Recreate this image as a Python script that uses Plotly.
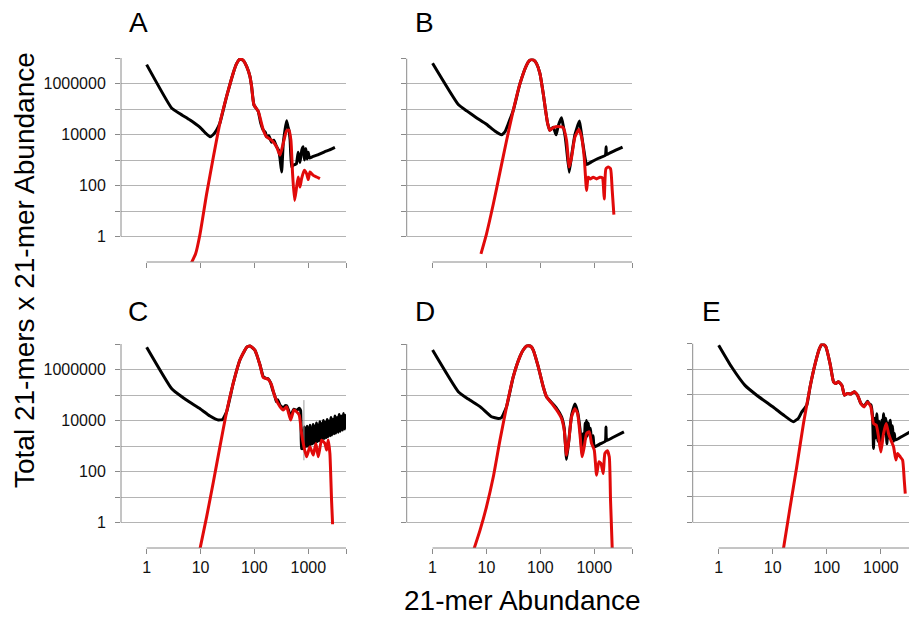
import plotly.graph_objects as go

W, H = 909, 617

# ---------------- data ----------------
# Panel A
a_black_x = [1, 2.9, 4.15, 6.4, 9.8, 12.6, 15, 17.3, 19.9, 22.9, 30.5, 40.5, 46.7, 54, 62, 71.7, 82.6, 88.7, 98, 118,
             130, 146, 160, 168, 185, 208, 230, 258, 280, 298, 320, 343, 370, 396, 420, 437, 460, 490, 526,
             560, 600, 650, 700, 760, 807, 850, 900, 950, 1000, 1050, 1200, 1500, 2000, 2500, 3120]
a_black_y = [5.5e6, 1.1e5, 6.5e4, 3.7e4, 1.9e4, 1.1e4, 8.1e3, 1.0e4, 1.5e4, 2.8e4, 3.1e5, 2.6e6, 6.0e6, 9.1e6, 8.1e6, 4.7e6, 1.9e6, 7.6e5, 1.45e5, 8e4,
             3e4, 1.5e4, 1.2e4, 8.1e3, 9e3, 5e3, 6e3, 3.3e3, 2.5e3, 1.2e3, 340, 4.5e3, 1.5e4, 3.5e4, 2.0e4, 1.5e4, 6e3, 540, 620,
             660, 700, 2.0e3, 800, 2.5e3, 3.3e3, 1.0e3, 2.8e3, 1.1e3, 2.0e3, 1.2e3, 1.35e3, 1.6e3, 2.1e3, 2.5e3, 3.1e3]
a_red_x = [6.8, 8.1, 9.8, 13, 17.3, 22.9, 30.5, 40.5, 46.7, 54, 62, 71.7, 82.6, 88.7, 98, 118, 146, 168, 208, 258, 298,
           343, 396, 437, 476, 511, 557, 607, 651, 700, 751, 842, 930, 1000, 1072, 1236, 1426, 1644]
a_red_y = [0.095, 0.21, 1.26, 48, 1300, 2.8e4, 3.1e5, 2.6e6, 6.0e6, 9.1e6, 8.1e6, 4.7e6, 1.9e6, 7.6e5, 1.45e5, 8e4, 1.5e4, 8.1e3, 6.0e3, 3.3e3, 1.55e3,
           4.5e3, 1.4e4, 1.5e4, 6e3, 295, 26, 87, 216, 87, 185, 400, 295, 170, 340, 250, 216, 185]

# Panel B
b_black_x = [1, 3.0, 4.3, 6.5, 10, 14.3, 19, 22, 25, 31.4, 41.7, 55.5, 62, 68.7, 76, 85, 98, 113, 125, 136, 150, 173,
             196, 214, 247, 266, 290, 306, 343, 379, 437, 531, 581, 651, 720, 900, 1200, 1600, 1660, 1680, 1720, 2200, 3350]
b_black_y = [6.5e6, 1.55e5, 8.7e4, 4.7e4, 2.6e4, 1.4e4, 1.0e4, 1.3e4, 2.5e4, 9.1e4, 1.0e6, 5.5e6, 8.1e6, 9.1e6, 8.6e6, 6.3e6, 2.6e6, 4.2e5, 9.1e4, 2.9e4, 1.5e4, 2.0e4,
             1.0e4, 2.2e4, 4.7e4, 2.2e4, 8e3, 3e3, 340, 1.5e3, 1.0e4, 3.5e4, 1.0e4, 2.0e3, 680, 880, 1.2e3, 1.55e3, 3.4e3, 1.65e3, 1.7e3, 2.2e3, 3.3e3]
b_red_x = [7.9, 10, 13.4, 17.8, 23.6, 31.4, 41.7, 55.5, 62, 68.7, 76, 85, 98, 113, 125, 136, 150, 173, 214, 266, 306,
           343, 379, 437, 519, 581, 651, 720, 773, 853, 957, 1103, 1273, 1420, 1530, 1644, 1816, 2004, 2153, 2311]
b_red_y = [0.21, 1.26, 19, 340, 6e3, 9.1e4, 1.0e6, 5.5e6, 8.1e6, 9.1e6, 8.6e6, 6.3e6, 2.6e6, 4.2e5, 9.1e4, 2.9e4, 1.5e4, 1.9e4, 2.1e4, 1.9e4, 6e3,
           540, 1.3e3, 8.1e3, 1.6e4, 8.1e3, 1.3e3, 65, 216, 185, 216, 185, 216, 200, 30, 460, 540, 460, 65, 7.3]

# Panel C
c_black_x = [1, 2.9, 4.5, 6.8, 9.8, 15, 21.4, 25.7, 30.5, 40.5, 54, 71.7, 82.6, 102, 127, 146, 165, 181, 200, 220, 240,
             255, 270, 298, 320, 343, 370, 396, 430, 470, 500, 541, 607, 680, 720, 751,
             780, 800, 820, 845, 870, 895, 920, 950, 980, 1010, 1040, 1075, 1110, 1150, 1190, 1230, 1275, 1320,
             1370, 1420, 1470, 1520, 1580, 1640, 1700, 1770, 1840, 1910, 1990, 2070, 2150, 2240, 2330, 2430,
             2530, 2640, 2750, 2870, 3000, 3130, 3270, 3420, 3580, 3750, 3930, 4120, 4320, 4530, 4750, 4980, 5100]
c_black_y = [7.5e6, 1.8e5, 8.5e4, 4.7e4, 2.9e4, 1.5e4, 1.05e4, 1.1e4, 2.2e4, 2.9e5, 2.4e6, 7.4e6, 8.3e6, 5.8e6, 1.5e6, 5.2e5, 4.5e5, 4.3e5, 3.0e5, 1.5e5, 9.0e4,
             5.5e4, 6.5e4, 4.0e4, 3.5e4, 2.8e4, 3.8e4, 3.8e4, 2.5e4, 1.3e4, 2.0e4, 2.8e4, 2.5e4, 3.0e4, 2.5e4, 800,
             800, 4.0e3, 900, 5.5e3, 920, 4.0e3, 980, 6.0e3, 1.0e3, 4.5e3, 1.08e3, 6.5e3, 1.15e3, 5.0e3, 1.22e3, 7.0e3, 1.3e3, 6.0e3,
             1.4e3, 8.0e3, 1.5e3, 6.5e3, 1.62e3, 9.0e3, 1.72e3, 7.5e3, 1.85e3, 1.0e4, 2.0e3, 8.5e3, 2.15e3, 1.1e4, 2.3e3, 9.5e3,
             2.5e3, 1.3e4, 2.7e3, 1.1e4, 3.0e3, 1.5e4, 3.2e3, 1.3e4, 3.5e3, 1.7e4, 3.8e3, 1.5e4, 4.2e3, 1.9e4, 4.6e3, 1.6e4, 5.0e3]
c_red_x = [9.8, 13, 17.3, 22.9, 30.5, 40.5, 54, 71.7, 82.6, 102, 127, 146, 181, 208, 240, 298, 343, 396, 470, 541,
           607, 680, 751, 830, 930, 1072, 1236, 1386, 1530, 1766, 2036, 2187, 2346, 2517, 2704, 2826]
c_red_y = [0.095, 1.7, 39, 930, 2.2e4, 2.9e5, 2.4e6, 7.4e6, 8.3e6, 5.8e6, 1.5e6, 4.9e5, 4.1e5, 2.5e5, 8.5e4, 3.5e4, 2.6e4, 3.5e4, 1.05e4, 2.6e4,
           2.2e4, 1.6e4, 3.1e3, 930, 380, 930, 440, 1260, 380, 1700, 1260, 690, 1700, 510, 7.4, 0.85]
c_gray_x = [830, 830]
c_gray_y = [6.3e4, 275]

# Panel D
d_black_x = [1, 3.0, 4.6, 7.6, 12.4, 16.5, 19, 23.6, 31.4, 41.7, 48, 55.5, 61, 67, 73.8, 91.3, 113, 130, 162, 200, 247,
             277, 306, 338, 379, 437, 490, 541, 598, 620, 651, 680, 700, 720, 745, 775, 807, 850, 891, 950, 1000,
             1300, 1600, 1650, 1700, 2200, 3550]
d_black_y = [5.8e6, 1.35e5, 6.9e4, 3.5e4, 1.4e4, 1.2e4, 1.3e4, 3.5e4, 5.2e5, 3.2e6, 5.8e6, 8.3e6, 8.6e6, 8.0e6, 5.8e6, 1.3e6, 2.1e5, 8.5e4, 5e4, 3e4, 1.4e4,
             5e3, 300, 1.7e3, 1.6e4, 4.4e4, 2.2e4, 5e3, 500, 3.0e3, 1.5e3, 8e3, 2e3, 1.0e4, 2.5e3, 8e3, 3e3, 5e3, 1.5e3, 2.5e3, 930,
             1230, 1540, 5.6e3, 1640, 2160, 3.6e3]
d_red_x = [5.9, 7.6, 10, 13.4, 17.8, 23.6, 31.4, 41.7, 48, 55.5, 61, 67, 73.8, 91.3, 113, 130, 162, 200, 247, 277, 306,
           338, 379, 437, 490, 541, 598, 651, 720, 807, 891, 1000, 1103, 1219, 1327, 1466, 1575, 1742, 1897, 2004, 2153]
d_red_y = [0.095, 0.5, 4.1, 62, 1.7e3, 3.5e4, 5.2e5, 3.2e6, 5.8e6, 8.3e6, 8.6e6, 8.0e6, 5.8e6, 1.3e6, 2.1e5, 8.5e4, 4.7e4, 2.6e4, 1.2e4, 4.2e3, 430,
           1.7e3, 1.4e4, 2.9e4, 1.9e4, 3.1e3, 380, 930, 3.1e3, 3.6e3, 1.26e3, 690, 72, 240, 210, 83, 510, 650, 380, 7.4, 0.095]

# Panel E
e_black_x = [1, 1.74, 3.07, 5.06, 10.3, 15.8, 24.1, 29.9, 34, 42.6, 49, 60.8, 73, 83, 96, 115, 133, 147, 164, 190, 212,
             241, 278, 321, 370, 426, 491, 566, 600, 653, 700, 731, 760, 790, 843, 880, 920, 972, 1040, 1080,
             1120, 1180, 1230, 1292, 1350, 1420, 1490, 1560, 1640, 1717, 1780, 1841, 2500, 3490]
e_black_y = [8.6e6, 1.2e6, 2.3e5, 9.5e4, 3.2e4, 1.6e4, 8.7e3, 1.2e4, 2.0e4, 3.9e4, 2.0e5, 1.6e6, 6.3e6, 1.0e7, 7.4e6, 1.6e6, 3.2e5, 2.7e5, 3.2e5, 2.3e5, 9.5e4,
             1.1e5, 1.05e5, 1.3e5, 9.5e4, 4.5e4, 3.5e4, 5.5e4, 4.5e4, 4.0e4, 1.5e4, 780, 1.2e4, 2.0e3, 1.8e4, 1.5e3, 9e3, 910, 1.0e4, 2e3,
             1.8e4, 3e3, 1.2e4, 1.2e3, 8e3, 2e3, 1.0e4, 1.8e3, 6e3, 1.5e3, 3e3, 1.65e3, 2.36e3, 3.5e3]
e_red_x = [15.8, 21, 27.8, 37, 49, 60.8, 73, 83, 96, 115, 133, 147, 164, 190, 212, 241, 278, 321, 370, 426, 491,
           566, 653, 731, 820, 906, 1000, 1120, 1256, 1387, 1531, 1717, 1895, 2036, 2280, 2520, 2705, 2825]
e_red_y = [0.095, 4.1, 150, 7.4e3, 2.0e5, 1.6e6, 6.3e6, 1.0e7, 7.4e6, 1.6e6, 3.2e5, 2.7e5, 3.2e5, 2.3e5, 9.5e4, 1.1e5, 1.05e5, 1.3e5, 9.5e4, 4.5e4, 3.3e4,
           5.2e4, 3.3e4, 7.4e3, 6.4e3, 2.2e3, 570, 3.0e3, 7.4e3, 3.0e3, 1.65e3, 910, 275, 500, 370, 275, 45, 13.5]

panel_letters = ["A", "B", "C", "D", "E"]
y_tick_values = [1, 10, 100, 1000, 10000, 100000, 1000000, 10000000]
y_tick_labels = ["1", "", "100", "", "10000", "", "1000000", ""]
x_tick_values = [1, 10, 100, 1000, 5012]
x_tick_labels = ["1", "10", "100", "1000", ""]
x_title = "21-mer Abundance"
y_title = "Total 21-mers x 21-mer Abundance"

# ---------------- layout geometry (pixels) ----------------
# (left, right, top, bottom, xrange, show y labels, show x labels)
geo = [
    (121, 346, 58, 262, [-0.476, 3.70], True, False),
    (406.7, 632, 58.5, 262, [-0.48, 3.70], False, False),
    (121, 346, 344, 548, [-0.476, 3.70], True, True),
    (406.7, 632, 344, 548, [-0.48, 3.70], False, True),
    (692.7, 909, 343.5, 548, [-0.48, 3.52], False, True),
]
letter_pos = [(138, 23), (424, 23), (138, 312), (425, 312), (711, 312)]

data = [
    (a_black_x, a_black_y, a_red_x, a_red_y),
    (b_black_x, b_black_y, b_red_x, b_red_y),
    (c_black_x, c_black_y, c_red_x, c_red_y),
    (d_black_x, d_black_y, d_red_x, d_red_y),
    (e_black_x, e_black_y, e_red_x, e_red_y),
]

FONT = "Liberation Sans, Arial, Helvetica, sans-serif"
GRID = "#b4b4b4"
AXC = "#8a8a8a"
RED = "#e10a0a"

fig = go.Figure()
layout = dict(
    width=W, height=H, margin=dict(l=0, r=0, t=0, b=0),
    paper_bgcolor="white", plot_bgcolor="white", showlegend=False,
    font=dict(family=FONT, color="#111"),
)
shapes = []
annotations = []

for i, ((l, r, t, b, xr, showy, showx), (bx, by, rx, ry)) in enumerate(zip(geo, data)):
    n = "" if i == 0 else str(i + 1)
    xa, ya = "x" + n, "y" + n
    layout["xaxis" + n] = dict(
        type="log", range=xr, domain=[l / W, r / W], anchor=ya,
        showgrid=False, zeroline=False, showline=False,
        ticks="outside", ticklen=5, tickwidth=1, tickcolor=AXC,
        tickvals=x_tick_values if i < 4 else x_tick_values[:4],
        ticktext=x_tick_labels if i < 4 else x_tick_labels[:4],
        showticklabels=showx, tickfont=dict(size=16, family=FONT, color="#111"),
        fixedrange=True,
    )
    layout["yaxis" + n] = dict(
        type="log", range=[-1, 7], domain=[(H - b) / H, (H - t) / H], anchor=xa,
        showgrid=True, gridcolor=GRID, gridwidth=1, zeroline=False, showline=False,
        ticks="outside", ticklen=5, tickwidth=1, tickcolor=AXC,
        tickvals=y_tick_values, ticktext=y_tick_labels,
        showticklabels=showy, tickfont=dict(size=16, family=FONT, color="#111"),
        ticklabelstandoff=6, fixedrange=True,
    )
    fig.add_trace(go.Scatter(x=bx, y=by, mode="lines", xaxis=xa, yaxis=ya,
                             line=dict(color="black", width=3, shape="spline", smoothing=0.4),
                             hoverinfo="skip"))
    if i == 2:
        fig.add_trace(go.Scatter(x=c_gray_x, y=c_gray_y, mode="lines", xaxis=xa, yaxis=ya,
                                 line=dict(color="#9a9a9a", width=1), hoverinfo="skip"))
    fig.add_trace(go.Scatter(x=rx, y=ry, mode="lines", xaxis=xa, yaxis=ya,
                             line=dict(color=RED, width=3, shape="spline", smoothing=0.5),
                             hoverinfo="skip"))
    # y axis line from 1 to 1e7
    shapes.append(dict(type="line", xref=xa + " domain", yref=ya, x0=0, x1=0, y0=1, y1=1e7,
                       line=dict(color=AXC, width=1)))
    # x axis line from 1 to end
    shapes.append(dict(type="line", xref=xa, yref=ya + " domain", x0=1, x1=10 ** xr[1], y0=0, y1=0,
                       line=dict(color=AXC, width=1)))
    lx, ly = letter_pos[i]
    annotations.append(dict(text=panel_letters[i], x=lx / W, y=1 - ly / H, xref="paper", yref="paper",
                            showarrow=False, xanchor="center", yanchor="middle",
                            font=dict(size=28, family=FONT, color="#000")))

annotations.append(dict(text=y_title, x=24 / W, y=1 - 270 / H, xref="paper", yref="paper",
                        showarrow=False, textangle=-90, xanchor="center", yanchor="middle",
                        font=dict(size=28, family=FONT, color="#000")))
annotations.append(dict(text=x_title, x=522 / W, y=1 - 600 / H, xref="paper", yref="paper",
                        showarrow=False, xanchor="center", yanchor="middle",
                        font=dict(size=28, family=FONT, color="#000")))

layout["shapes"] = shapes
layout["annotations"] = annotations
fig.update_layout(**layout)
fig.write_html("out.html", config={"displayModeBar": False},
               post_script="document.body.style.margin='0';document.body.style.overflow='hidden';")
